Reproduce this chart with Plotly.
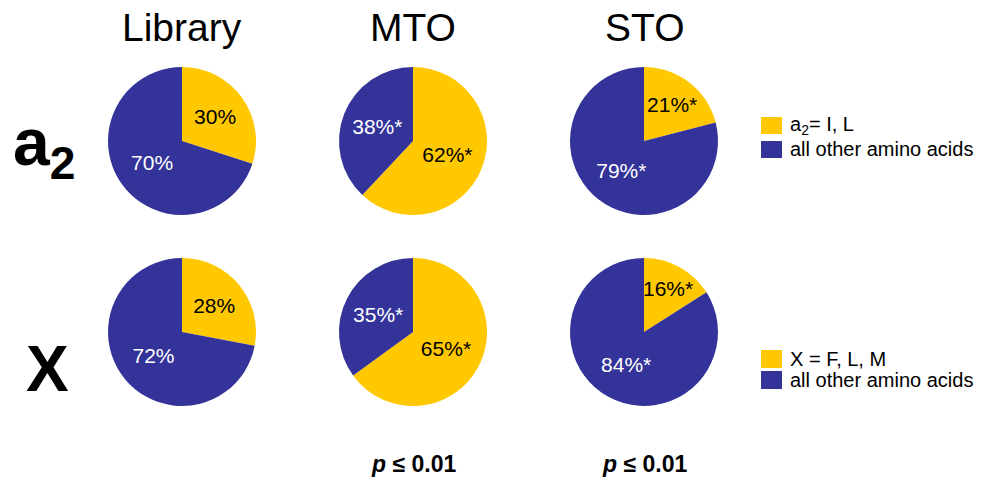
import plotly.graph_objects as go

# Share of residues at each position, per selection
columns = ["Library", "MTO", "STO"]
row_a2_match = [30, 62, 21]      # a2 = I, L
row_a2_other = [70, 38, 79]
row_x_match = [28, 65, 16]       # X = F, L, M
row_x_other = [72, 35, 84]
starred = [False, True, True]    # significant vs. library
p_labels = ["", "<i>p</i> ≤ 0.01", "<i>p</i> ≤ 0.01"]
legend_a2 = ["a<sub>2</sub>= I, L", "all other amino acids"]
legend_x = ["X = F, L, M", "all other amino acids"]

YELLOW = "#FFC800"
BLUE = "#333399"
FONT = "Liberation Sans, Arial, sans-serif"

W, H = 982, 481
col_cx = [182, 413, 644]
row_cy = [141, 332]
R = 74

fig = go.Figure()

rows = [(row_a2_match, row_a2_other), (row_x_match, row_x_other)]
for ri, (match, other) in enumerate(rows):
    cy = row_cy[ri]
    for ci in range(len(columns)):
        cx = col_cx[ci]
        star = "*" if starred[ci] else ""
        fig.add_trace(go.Pie(
            values=[match[ci], other[ci]],
            labels=["match", "other"],
            sort=False,
            direction="clockwise",
            rotation=0,
            marker=dict(colors=[YELLOW, BLUE], line=dict(width=0)),
            texttemplate="%{value}%" + star,
            textposition="inside",
            insidetextorientation="horizontal",
            textfont=dict(family=FONT, size=21, color=["black", "white"]),
            hoverinfo="label+value",
            showlegend=False,
            domain=dict(x=[(cx - R) / W, (cx + R) / W],
                        y=[1 - (cy + R) / H, 1 - (cy - R) / H]),
        ))

# Column headings
for ci, name in enumerate(columns):
    fig.add_annotation(x=col_cx[ci] / W, y=1 - 27 / H, text=name, showarrow=False,
                       xref="paper", yref="paper", xanchor="center", yanchor="middle",
                       font=dict(family=FONT, size=39, color="black"))

# Row headings
fig.add_annotation(x=44 / W, y=1 - 147 / H, text="<b>a<sub>2</sub></b>", showarrow=False,
                   xref="paper", yref="paper", xanchor="center", yanchor="middle",
                   font=dict(family=FONT, size=66, color="black"))
fig.add_annotation(x=47 / W, y=1 - 369 / H, text="<b>X</b>", showarrow=False,
                   xref="paper", yref="paper", xanchor="center", yanchor="middle",
                   font=dict(family=FONT, size=64, color="black"))

# p-values under the lower row
for ci, txt in enumerate(p_labels):
    if txt:
        fig.add_annotation(x=col_cx[ci] / W, y=1 - 464 / H, text="<b>" + txt + "</b>",
                           showarrow=False, xref="paper", yref="paper",
                           xanchor="center", yanchor="middle",
                           font=dict(family=FONT, size=23, color="black"))

# Legends drawn as swatches + text
def legend(items, top, step, size):
    for i, (txt, col) in enumerate(zip(items, [YELLOW, BLUE])):
        y0 = top + i * step
        fig.add_shape(type="rect", xref="paper", yref="paper",
                      x0=761 / W, x1=782 / W, y0=1 - (y0 + size) / H, y1=1 - y0 / H,
                      fillcolor=col, line=dict(width=0))
        fig.add_annotation(x=788 / W, y=1 - (y0 + size / 2) / H, text=txt, showarrow=False,
                           xref="paper", yref="paper", xanchor="left", yanchor="middle",
                           font=dict(family=FONT, size=20, color="black"))

legend(legend_a2, 117, 24, 17)
legend(legend_x, 350, 21, 18)

fig.update_layout(width=W, height=H, margin=dict(l=0, r=0, t=0, b=0),
                  paper_bgcolor="white", plot_bgcolor="white",
                  uniformtext=dict(minsize=21, mode="show"))

fig.write_html("out.html")
